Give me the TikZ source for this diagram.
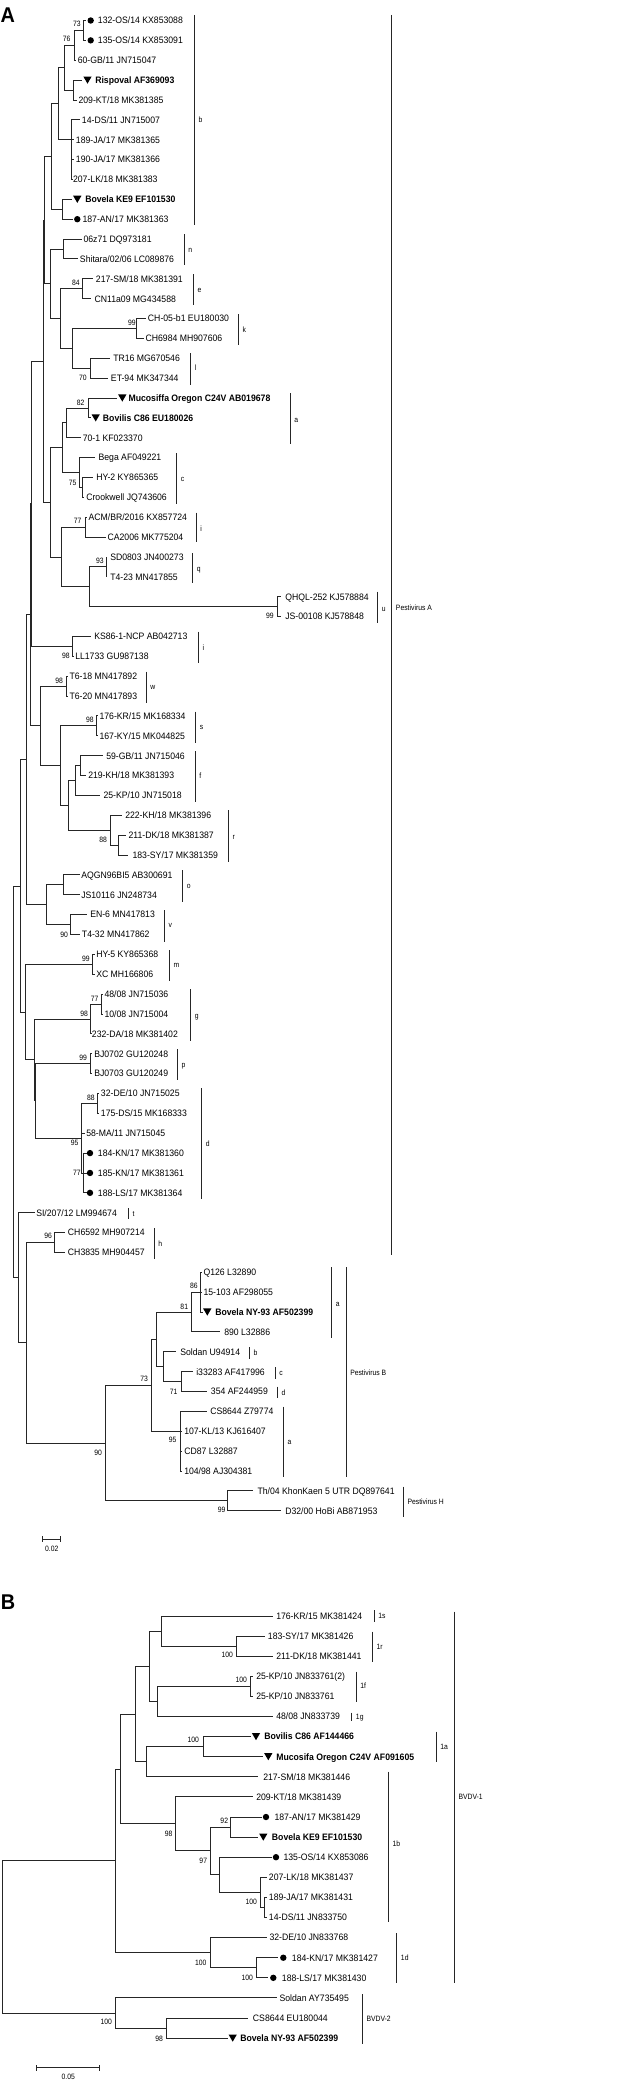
\documentclass[tikz,border=0pt]{standalone}
\usepackage{fontspec}
\usetikzlibrary{calc, shapes.geometric}
\newfontfamily\treefont[FakeStretch=0.93]{Liberation Sans}
\newfontfamily\smalltreefont[FakeStretch=0.88]{Liberation Sans}

\begin{document}
\begin{tikzpicture}[x=0.75pt, y=-0.75pt,
    branch/.style={draw=tree-grey, line width=0.7pt},
    cladebar/.style={draw=tree-grey, line width=0.7pt},
    taxon/.style={anchor=west, inner sep=0pt, text height=5pt, text depth=0pt,
        font=\treefont\fontsize{7}{8}\selectfont},
    refstrain/.style={taxon, font=\treefont\bfseries\fontsize{7}{8}\selectfont},
    boot/.style={anchor=east, inner sep=0pt, text height=4.1pt, text depth=0pt,
        font=\smalltreefont\fontsize{5.8}{6}\selectfont},
    cladename/.style={anchor=west, inner sep=0pt, text height=4.1pt, text depth=0pt,
        font=\smalltreefont\fontsize{5.8}{6}\selectfont},
    isolate/.style={circle, fill=black, inner sep=0pt, minimum size=4.8pt},
    vaccine/.style={regular polygon, regular polygon sides=3, shape border rotate=180,
        fill=black, inner sep=0pt, minimum size=7.2pt, yshift=0.9pt},
    panel/.style={inner sep=0pt, font=\treefont\bfseries\fontsize{16}{16}\selectfont}]
    \colorlet{tree-grey}{black!85}
    \newcommand*\rowA[1]{20.5+19.87*(#1-1)}
    \newcommand*\rowB[1]{1616+20.1*(#1-1)}
    % clade: name, x of the split, first child, last child
    \newcommand*\clade[4]{%
        \path ($(#3)!.5!(#4)$) coordinate (mid#1);
        \coordinate (#1) at (#2,0 |- mid#1);
        \draw[branch] (#1) |- (#3);
        \draw[branch] (#1) |- (#4);
    }

    \useasboundingbox (0,0) rectangle (642,2084);

    % PANEL A -- LEAVES
    \foreach \i/\tip/\lx/\txt in {
        3/76/77.5/{60-GB/11 JN715047}, 5/76.7/78.3/{209-KT/18 MK381385},
        6/80/81.7/{14-DS/11 JN715007}, 7/74/75.7/{189-JA/17 MK381365},
        8/74/75.7/{190-JA/17 MK381366}, 9/72.3/72.8/{207-LK/18 MK381383},
        12/81.7/83.3/{06z71 DQ973181}, 13/78.3/79.7/{Shitara/02/06 LC089876},
        14/93.3/95.7/{217-SM/18 MK381391}, 15/91/94.3/{CN11a09 MG434588},
        16/145.7/147.7/{CH-05-b1 EU180030}, 17/144.3/145.3/{CH6984 MH907606},
        18/110/113/{TR16 MG670546}, 19/108.3/110.7/{ET-94 MK347344},
        22/81.3/82.5/{70-1 KF023370}, 23/95/98.3/{Bega AF049221},
        24/93.3/96/{HY-2 KY865365}, 25/83.3/86/{Crookwell JQ743606},
        26/87.3/88.3/{ACM/BR/2016 KX857724}, 27/106/107.3/{CA2006 MK775204},
        28/107/110/{SD0803 JN400273}, 29/107/110/{T4-23 MN417855},
        30/280.7/285/{QHQL-252 KJ578884}, 31/280.7/285/{JS-00108 KJ578848},
        32/90.7/94/{KS86-1-NCP AB042713}, 33/73.5/75/{LL1733 GU987138},
        34/67.5/69.3/{T6-18 MN417892}, 35/67.5/69.3/{T6-20 MN417893},
        36/97.5/99.3/{176-KR/15 MK168334}, 37/97.5/99.3/{167-KY/15 MK044825},
        38/103.3/106/{59-GB/11 JN715046}, 39/86/88/{219-KH/18 MK381393},
        40/100/103.3/{25-KP/10 JN715018}, 41/121.7/125/{222-KH/18 MK381396},
        42/126/128.3/{211-DK/18 MK381387}, 43/128.3/132.3/{183-SY/17 MK381359},
        44/80/81/{AQGN96BI5 AB300691}, 45/80/81/{JS10116 JN248734},
        46/87.3/90/{EN-6 MN417813}, 47/80/81.7/{T4-32 MN417862},
        48/94.5/96/{HY-5 KY865368}, 49/94.5/96/{XC MH166806},
        50/103.3/104.3/{48/08 JN715036}, 51/103.3/104.3/{10/08 JN715004},
        52/91/91.7/{232-DA/18 MK381402}, 53/92/94/{BJ0702 GU120248},
        54/92/94/{BJ0703 GU120249}, 55/99/100.7/{32-DE/10 JN715025},
        56/99/100.7/{175-DS/15 MK168333}, 57/85/86/{58-MA/11 JN715045},
        61/35/36/{SI/207/12 LM994674}, 62/65/67.7/{CH6592 MH907214},
        63/65/67.7/{CH3835 MH904457}, 64/201.5/203.3/{Q126 L32890},
        65/201.5/203.3/{15-103 AF298055}, 67/220/224/{890 L32886},
        68/176/180/{Soldan U94914}, 69/193.3/196/{i33283 AF417996},
        70/206.7/210.7/{354 AF244959}, 71/206.7/210/{CS8644 Z79774},
        72/182/184/{107-KL/13 KJ616407}, 73/182/184/{CD87 L32887},
        74/182/184/{104/98 AJ304381}, 75/253.3/257.3/{Th/04 KhonKaen 5 UTR DQ897641},
        76/281/285/{D32/00 HoBi AB871953}} {
        \coordinate (a\i) at (\tip, {\rowA{\i}});
        \node[taxon] (ta\i) at (\lx, {\rowA{\i}}) {\txt};
    }
    \foreach \i/\tip/\mx/\lx/\txt in {
        1/86/90.7/97.7/{132-OS/14 KX853088}, 2/86/90.7/97.7/{135-OS/14 KX853091},
        11/72.7/77.3/82.3/{187-AN/17 MK381363}, 58/86.5/90/97.7/{184-KN/17 MK381360},
        59/86.5/90/97.7/{185-KN/17 MK381361}, 60/86.5/90/97.7/{188-LS/17 MK381364}} {
        \coordinate (a\i) at (\tip, {\rowA{\i}});
        \node[isolate] (ma\i) at (\mx, {\rowA{\i}}) {};
        \node[taxon] (ta\i) at (\lx, {\rowA{\i}}) {\txt};
    }
    \foreach \i/\tip/\mx/\lx/\txt in {
        4/81.7/87.5/95/{Rispoval AF369093}, 10/72/77.3/85/{Bovela KE9 EF101530},
        20/116.7/122.3/128.3/{Mucosiffa Oregon C24V AB019678},
        21/90.7/95.7/102.7/{Bovilis C86 EU180026},
        66/203/207.3/215/{Bovela NY-93 AF502399}} {
        \coordinate (a\i) at (\tip, {\rowA{\i}});
        \node[vaccine] (ma\i) at (\mx, {\rowA{\i}}) {};
        \node[refstrain] (ta\i) at (\lx, {\rowA{\i}}) {\txt};
    }

    % PANEL A -- SPLITS (children before parents)
    \clade{n73}{83.3}{a1}{a2}
    \clade{n76}{74}{n73}{a3}
    \clade{nRisp}{73.3}{a4}{a5}
    \clade{nP1}{64}{n76}{nRisp}
    \clade{nP2a}{71.7}{a7}{a9}
    \draw[branch] (nP2a) |- (a8);
    \clade{nP2}{71}{a6}{nP2a}
    \clade{nP3}{58.3}{nP1}{nP2}
    \clade{nBov}{62}{a10}{a11}
    \clade{nP4}{51.7}{nP3}{nBov}
    \clade{nN}{63.3}{a12}{a13}
    \clade{nE}{82.3}{a14}{a15}
    \clade{nK}{136.7}{a16}{a17}
    \clade{nL}{90.7}{a18}{a19}
    \clade{nN3}{72.3}{nK}{nL}
    \clade{nN2}{60}{nE}{nN3}
    \clade{nN1}{50}{nN}{nN2}
    \clade{nQ}{44.5}{nP4}{nN1}
    \clade{nAsub}{88.3}{a20}{a21}
    \clade{nA}{66.7}{nAsub}{a22}
    \clade{nCsub}{82.7}{a24}{a25}
    \clade{nC}{79.3}{a23}{nCsub}
    \clade{nAC}{62.3}{nA}{nC}
    \clade{nI}{85}{a26}{a27}
    \clade{nQq}{106}{a28}{a29}
    \clade{nUu}{277.3}{a30}{a31}
    \clade{nQU}{89.3}{nQq}{nUu}
    \clade{nIQU}{61.7}{nI}{nQU}
    \clade{nS}{50}{nAC}{nIQU}
    \clade{nR}{43.3}{nQ}{nS}
    \clade{nKS}{72.7}{a32}{a33}
    \clade{nT}{31.7}{nR}{nKS}
    \clade{nW}{66.7}{a34}{a35}
    \clade{nSs}{96.7}{a36}{a37}
    \clade{nF1}{80}{a38}{a39}
    \clade{nF2}{75}{nF1}{a40}
    \clade{nRsub}{118.3}{a42}{a43}
    \clade{nRr}{110}{a41}{nRsub}
    \clade{nFR}{68.3}{nF2}{nRr}
    \clade{nSFR}{60}{nSs}{nFR}
    \clade{nWS}{40.7}{nW}{nSFR}
    \clade{nU0}{30.7}{nT}{nWS}
    \clade{nO}{63.3}{a44}{a45}
    \clade{nV}{70.7}{a46}{a47}
    \clade{nOV}{46.7}{nO}{nV}
    \clade{nV0}{26.7}{nU0}{nOV}
    \clade{nM}{92.3}{a48}{a49}
    \clade{nGsub}{101}{a50}{a51}
    \clade{nG}{90.7}{nGsub}{a52}
    \clade{nP}{90.7}{a53}{a54}
    \clade{nD88}{97.3}{a55}{a56}
    \clade{nD77}{83.3}{a58}{a60}
    \draw[branch] (nD77) |- (a59);
    \clade{nD}{81}{nD88}{nD77}
    \draw[branch] (nD) |- (a57);
    \clade{nPD}{35.7}{nP}{nD}
    \clade{nGG}{34}{nG}{nPD}
    \clade{nMG}{25}{nM}{nGG}
    \clade{nH0}{20.7}{nV0}{nMG}
    \clade{nH}{54.3}{a62}{a63}
    \clade{nB86}{200}{a64}{a66}
    \draw[branch] (nB86) |- (a65);
    \clade{nB81}{191.7}{nB86}{a67}
    \clade{nCD}{181}{a69}{a70}
    \clade{nBCD}{163.3}{a68}{nCD}
    \clade{nB1}{156.7}{nB81}{nBCD}
    \clade{nCSsub}{180.7}{a72}{a74}
    \draw[branch] (nCSsub) |- (a73);
    \clade{nCS}{180}{a71}{nCSsub}
    \clade{nB73}{151}{nB1}{nCS}
    \clade{nHH}{227.7}{a75}{a76}
    \clade{nBH}{105.7}{nB73}{nHH}
    \clade{nX}{26.7}{nH}{nBH}
    \clade{nY}{18.3}{a61}{nX}
    \clade{nRoot}{13.3}{nH0}{nY}

    % PANEL B -- LEAVES
    \foreach \i/\tip/\lx/\txt in {
        1/272.7/276/{176-KR/15 MK381424}, 2/265/267.7/{183-SY/17 MK381426},
        3/272.7/276/{211-DK/18 MK381441}, 4/253/256/{25-KP/10 JN833761(2)},
        5/253/256/{25-KP/10 JN833761}, 6/272.7/276/{48/08 JN833739},
        9/258.3/263/{217-SM/18 MK381446}, 10/253.3/256/{209-KT/18 MK381439},
        14/266.7/268.7/{207-LK/18 MK381437}, 15/266.7/268.7/{189-JA/17 MK381431},
        16/266.7/268.7/{14-DS/11 JN833750}, 17/266.7/269.3/{32-DE/10 JN833768},
        20/276.7/279.3/{Soldan AY735495}, 21/248.3/252.7/{CS8644 EU180044}} {
        \coordinate (b\i) at (\tip, {\rowB{\i}});
        \node[taxon] (tb\i) at (\lx, {\rowB{\i}}) {\txt};
    }
    \foreach \i/\tip/\mx/\lx/\txt in {
        11/261.7/266/274.3/{187-AN/17 MK381429}, 13/271.7/276/283.3/{135-OS/14 KX853086},
        18/278.3/283.3/291.7/{184-KN/17 MK381427}, 19/268.3/273.3/281.7/{188-LS/17 MK381430}} {
        \coordinate (b\i) at (\tip, {\rowB{\i}});
        \node[isolate] (mb\i) at (\mx, {\rowB{\i}}) {};
        \node[taxon] (tb\i) at (\lx, {\rowB{\i}}) {\txt};
    }
    \foreach \i/\tip/\mx/\lx/\txt in {
        7/250.7/256/264/{Bovilis C86 AF144466},
        8/263.3/268.3/276/{Mucosifa Oregon C24V AF091605},
        12/258.3/263.3/271.7/{Bovela KE9 EF101530},
        22/228.3/232.7/240/{Bovela NY-93 AF502399}} {
        \coordinate (b\i) at (\tip, {\rowB{\i}});
        \node[vaccine] (mb\i) at (\mx, {\rowB{\i}}) {};
        \node[refstrain] (tb\i) at (\lx, {\rowB{\i}}) {\txt};
    }

    % PANEL B -- SPLITS
    \clade{b1r}{236.7}{b2}{b3}
    \clade{b1s}{161.7}{b1}{b1r}
    \clade{b1f}{250.7}{b4}{b5}
    \clade{b1g}{157.3}{b1f}{b6}
    \clade{bUp}{149.3}{b1s}{b1g}
    \clade{b1a}{203.3}{b7}{b8}
    \clade{bSM}{146.7}{b1a}{b9}
    \clade{bA}{135}{bUp}{bSM}
    \clade{b92}{230.7}{b11}{b12}
    \clade{b100s}{264}{b15}{b16}
    \clade{b100}{260}{b14}{b100s}
    \clade{bOS}{219}{b13}{b100}
    \clade{b97}{210.7}{b92}{bOS}
    \clade{b98}{175.7}{b10}{b97}
    \clade{bAB}{120.7}{bA}{b98}
    \clade{b1ds}{256.7}{b18}{b19}
    \clade{b1d}{210}{b17}{b1ds}
    \clade{bV1}{115}{bAB}{b1d}
    \clade{bV2s}{166}{b21}{b22}
    \clade{bV2}{115.7}{b20}{bV2s}
    \clade{bRoot}{2.7}{bV1}{bV2}

    % BOOTSTRAP VALUES
    \foreach \bx/\by/\val [count=\k] in {
        81/23.3/73, 70.7/39/76, 80/282.7/84, 136/322.7/99, 87/377.3/70,
        84.7/402.3/82, 76.7/482.3/75, 81.7/521/77, 104/560.7/93, 274/616/99,
        70/656/98, 63.3/680.7/98, 94/720/98, 107.3/839.3/88, 68.3/934.7/90,
        90/958.3/99, 98.7/998.3/77, 88.3/1013.3/98, 87.3/1057.3/99, 95/1097.3/88,
        78.7/1142.7/95, 81/1172.3/77, 52.3/1236/96, 198/1286/86, 188.3/1306.7/81,
        148.3/1379/73, 177.7/1391.7/71, 176.7/1440/95, 102.3/1452.7/90, 225.7/1510/99,
        233.3/1655/100, 247.3/1679.3/100, 199.3/1740/100, 228.3/1820.7/92,
        172.7/1834/98, 207.3/1860.7/97, 257.3/1901.7/100, 206.7/1962.3/100,
        253.3/1977.3/100, 112.3/2021.7/100, 163.3/2038.3/98}
        \node[boot] (bs\k) at (\bx, \by) {\val};

    % CLADE BARS
    \foreach \bx/\ya/\yb/\ly/\lab [count=\k] in {
        194.3/15/225/120/b, 184/234.3/265/250/n, 193.3/274.3/305/289.7/e,
        238.3/314.3/345/329.3/k, 190.7/353.3/385/367.3/l, 290/393.3/444/420/a,
        176.7/453.3/504/479/c, 196/512.7/541.7/528.3/i, 192.7/553.3/583.3/568.3/q,
        377.7/591.7/623.3/608.3/u, 391.7/15/1255/607.3/{Pestivirus A},
        198.3/631.7/663.3/647.3/i, 146/671.7/702.7/686.7/w, 195.7/711.7/742.7/726.7/s,
        195/751/801.7/775.7/f, 228.3/810/861.7/836.7/r, 182.7/870/901.7/885.7/o,
        164.3/910/941.7/925/v, 169.3/950/980.7/965/m, 190.7/989.3/1040.7/1016/g,
        177.3/1049.3/1080/1064.3/p, 201.7/1088.3/1199.3/1143.3/d,
        128.3/1208.3/1219.3/1213.3/t, 154/1228.3/1259.3/1243.3/h,
        331.7/1267.3/1338.3/1303.3/a, 346/1267.3/1477.3/1372.3/{Pestivirus B},
        249.3/1347.3/1359/1352.3/b, 275/1367.3/1379/1372.3/c,
        277.3/1386.7/1398.3/1392.3/d, 283.3/1406.7/1477.3/1441.7/a,
        403.3/1486.7/1517.3/1501.7/{Pestivirus H},
        374/1610/1621.7/1616/1s, 372.3/1631.7/1661.7/1646.7/1r,
        356/1671.7/1701.7/1686/1f, 351.7/1712.7/1720.7/1716.3/1g,
        436/1731.7/1761.7/1746.7/1a, 388.3/1771.7/1922/1843.3/1b,
        396.7/1933.3/1983.3/1957.7/1d, 454.3/1611.7/1983.3/1796.7/BVDV-1,
        362.3/1994/2044/2018.3/BVDV-2} {
        \draw[cladebar] (\bx, \ya) -- (\bx, \yb);
        \node[cladename] (clade\k) at ({\bx+4}, \ly) {\lab};
    }

    % SCALE BARS
    \coordinate (sa0) at (42.7, 1539);
    \coordinate (sa1) at (60, 1539);
    \draw[branch] (sa0) -- (sa1);
    \draw[branch] ([yshift=-1.9pt]sa0) -- ([yshift=1.9pt]sa0)
                  ([yshift=-1.9pt]sa1) -- ([yshift=1.9pt]sa1);
    \node[boot, anchor=center] (scaleA) at (51.7, 1548.3) {0.02};
    \coordinate (sb0) at (36.7, 2067.7);
    \coordinate (sb1) at (99.3, 2067.7);
    \draw[branch] (sb0) -- (sb1);
    \draw[branch] ([yshift=-2.4pt]sb0) -- ([yshift=2.4pt]sb0)
                  ([yshift=-2.4pt]sb1) -- ([yshift=2.4pt]sb1);
    \node[boot, anchor=center] (scaleB) at (68.3, 2077) {0.05};

    % PANEL LETTERS
    \node[panel] (panelA) at (7.8, 15) {A};
    \node[panel] (panelB) at (8, 1602) {B};
\end{tikzpicture}
\end{document}
